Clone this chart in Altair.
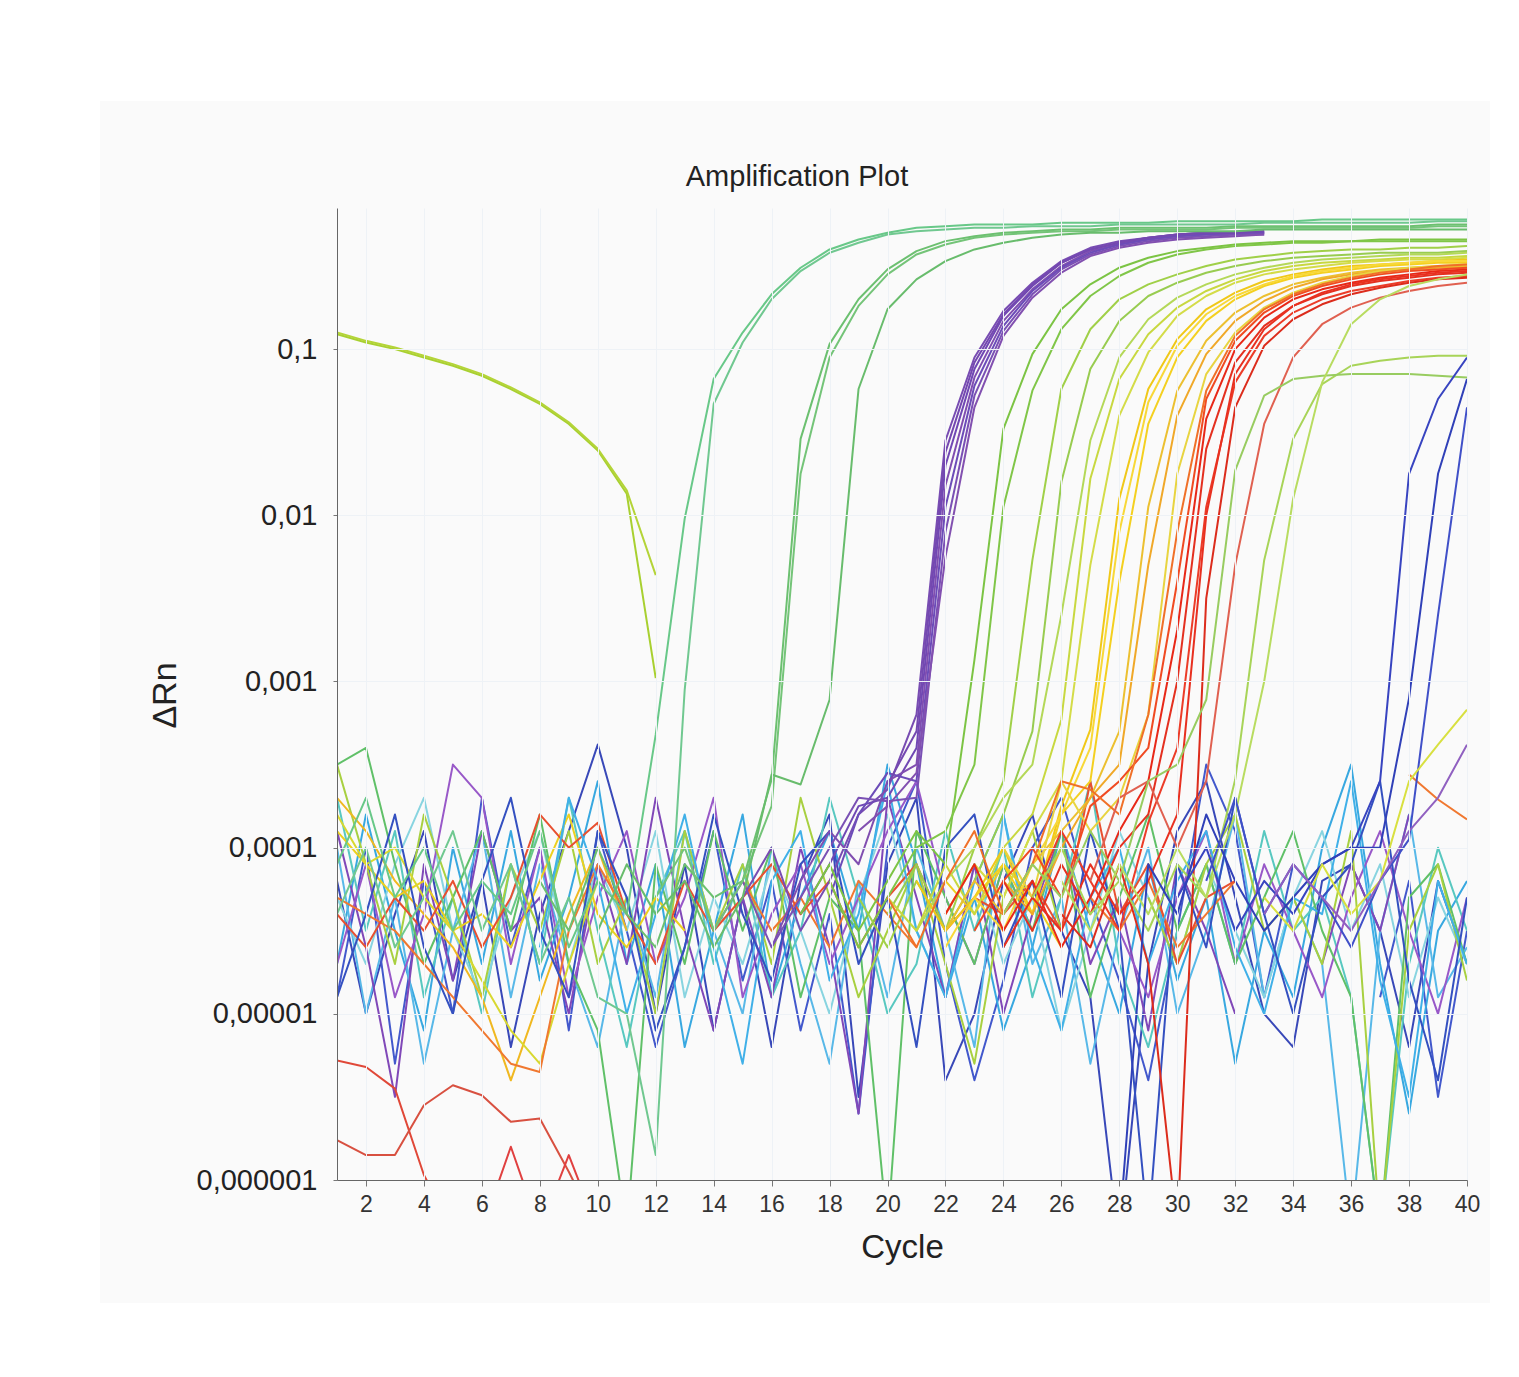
import altair as alt
import pandas as pd

N = None
# each series: (start cycle, log10(ΔRn) values)
# --- baseline noise wells ---
nb1 = (1, [-4.2,-5.0,-4.4,-3.9,-4.8,-4.2,-5.2,-4.4,-3.9,-3.38,-4.0,-5.0,-4.1,-5.1,-4.3,-5.2,-4.2,-3.8,-5.5,-4.1,-3.7,-5.4,-5.0,-4.2,-3.8,-4.5,-4.9,-6.4,-4.7,-3.9,-3.6,-4.3,-5.0,-5.2,-4.2,-4.1,-4.5,-5.2,-4.2,-4.7])
nb2 = (1, [-4.9,-4.0,-5.3,-4.2,-5.0,-3.7,-4.6,-4.0,-5.1,-3.9,-4.5,-5.2,-4.6,-3.9,-4.8,-4.2,-5.1,-4.4,-5.6,-4.0,-3.6,-4.7,-5.4,-4.8,-4.0,-3.7,-4.3,-4.8,-5.4,-4.5,-3.5,-3.9,-4.9,-4.1,N,N,-4.9,-4.2,-5.5,-4.5])
nb3 = (1, [-4.7,-3.8,-4.5,-5.1,-4.0,-4.7,-3.9,-4.8,-4.3,-3.6,-4.7,-4.1,-5.2,-4.5,-3.8,-4.9,-4.3,-3.9,-4.5,-3.5,-4.1,-4.9,-4.3,-5.1,-4.6,-3.9,-4.5,-5.0,-4.1,-4.8,-4.3,-5.3,-4.5,-4.9,-4.0,-3.5,-4.7,-5.6,-4.5,-4.2])
nb4 = (1, [-4.0,-5.0,-4.3,-5.3,-4.5,-3.9,-4.9,-4.1,-4.7,-5.2,-4.3,-4.9,-3.9,-4.5,-5.0,-4.0,-4.7,-5.3,-4.2,-4.9,-4.0,-4.5,-5.2,-3.8,-4.7,-4.3,-5.3,-4.5,-4.0,-5.0,-4.5,-3.8,-4.9,-4.3,-4.7,-6.3,-4.5,-3.8,-4.9,-4.6])
nb5 = (1, [-3.7,-4.5,-3.9,-4.9,-4.3,-5.0,-4.1,-4.7,-3.7,-4.5,-5.2,-4.3,-3.9,-4.7,-4.1,-4.9,-4.5,-3.7,-4.3,-5.0,-4.7,-3.9,-4.5,-4.0,-4.9,-4.3,-3.6,-4.7,-5.2,-4.5,-4.1,-4.7,-3.9,-4.5,-4.3,-4.9,-6.3,-4.7,-4.0,-4.5])
nb6 = (1, [-4.3,-4.7,-4.1,-3.7,-4.5,-4.9,-4.3,-3.9,-4.7,-4.1,-4.5,-3.9,-4.9,-4.3,-4.7,-4.1,-4.5,-5.0,-4.3,-3.8,-4.5,-4.9,-4.1,-4.7,-4.3,-5.1,-4.5,-3.9,-4.3,-4.7,-4.1,-4.5,-4.9,-4.3,-3.9,-4.5,-4.1,-4.9,-4.3,-4.7])
nb7 = (1, [-3.9,-4.6,-5.5,-4.1,-4.8,-3.9,-4.5,-4.3,-5.0,-4.1,-4.7,-3.7,-4.5,-5.1,-4.3,-4.9,-4.0,-4.6,-5.6,-3.7,-4.3,-4.9,-4.1,-5.0,-4.4,-3.9,-4.7,-4.3,-5.1,-4.1,-4.5,-5.0,N,N,-4.7,-4.1,-4.5,-3.8])
nb8 = (1, [-4.7,-4.1,-4.9,-4.4,-3.5,-3.7,-4.7,-4.0,-4.9,-4.3,-3.9,-4.7,-4.3,-3.7,-4.9,-4.4,-4.1,-4.7,-4.3,-3.9,-3.6,-4.3,-4.7,-4.1,-4.5,N,N,-4.5,-4.9,-4.3,-3.9,-4.7,-4.1,-4.5,-4.9,-4.3,-3.9,-4.5,-5.0,-4.3])
nb9 = (1, [-3.5,-3.4,-4.1,-4.7,-4.3,-3.9,-4.5,-3.8,-4.7,-5.1,-6.3,-4.1,-4.7,-3.9,-4.5,-4.0,-4.9,-4.3,-4.5,-6.3,-3.9,-4.3,-4.7,-4.1,-4.5,-3.9,-4.9,-4.3,-3.8,-4.5,-4.1,-4.7,-4.3,-3.9,-4.5,-4.9,-6.3,-4.3,-4.1,-4.7])
nb10 = (1, [-3.5,-4.1,-4.7,-3.8,-4.3,-4.9,-4.1,-4.5,-3.9,-4.7,-4.3,-5.0,-3.9,-4.5,-4.1,-4.7,-3.7,-4.3,-4.9,-4.5,-4.1,-4.7,-5.3,-4.3,-3.9,-4.5,N,N,-4.3,-4.7,-4.1,-3.8,-4.5,-4.3,-4.7,-3.9,-6.3,-4.5,-4.1,-4.8])
nb11 = (1, [-3.9,-4.1,-4.3,-4.2,-4.5,-4.4,-4.6,-4.2,-3.8,-4.4,-4.6,-4.3,-4.5])
nb11b = (21, [-4.5,-4.2,-4.4,-4.1,-4.3,-4.6])
nb12 = (1, [-3.7,-3.9,-4.2,-4.4,-4.6,-4.9,-5.4,-4.9,-4.4,-4.0,-4.5])
nb12b = (1, [-3.8,-4.1,-4.0,-4.3,-4.5,-4.8,-5.1,-5.3,-4.7,-4.2])
nb13 = (1, [-4.3,-4.4,-4.5,-4.7,-4.9,-5.1,-5.3,-5.35,-4.5,-4.1,-4.4])
nb13b = (15, [-4.2,-4.5,-4.3,-4.6,-4.2,-4.4,-4.6])
nb13c = (27, [-4.3,-4.5,-4.2,-4.6,-4.4,-4.2])
nb13d = (38, [-3.56,-3.71,-3.83])
nb14 = (1, [-5.28,-5.32,-5.45,-5.97,-6.3])
nb15 = (1, [-5.76,-5.85,-5.85,-5.55,-5.43,-5.49,-5.65,-5.63,-5.95,-6.3])
nb16 = (1, [-4.4,-4.6,-4.3,-4.5,-4.2,-4.6,-4.3,-3.8,-4.0,-3.85,-4.4,-4.7,-4.2,-4.5,-4.3,-4.1,-4.4,-4.2,-4.6,-4.3,-4.1,-4.5,-4.3,-4.4,-4.2,-4.5,-3.6,-4.4,-4.1,-4.7,-4.3,-4.2])
nb17 = (6, [-6.3,-5.8,-6.3,-5.85,-6.3])
nb18 = (8, [-4.6,-3.7,-4.2,-5.0,-4.4,-3.8,-4.6,-5.3,-4.2,-3.9,-4.8,-4.4,-3.6,-4.5,-4.9,-4.2,-3.8,-4.6,-5.1,-4.3,-4.0,-4.7,-4.2,-3.9,-4.6,-5.0,-4.3,-4.4,-3.6,-4.8,-5.5,-4.2,-4.7])
nb19 = (1, [-4.9,-4.4,-3.8,-4.6,-5.0,-4.2,-3.7,-4.5,-4.9,-3.9,-4.3,-5.1,-4.6,-3.8,-4.4,-4.8,-4.1,-3.9,-4.7,-4.3,-5.2,-4.0,-3.8,-4.6,-4.2,-4.9,-3.9,-4.5,-6.3,-4.1,-4.6,-3.7,-4.4,-5.0,-4.3,-4.1,-3.6,-4.8,-5.4,-4.3])

# --- amplification curves ---
k1 = (1, [-0.91,-0.96,-1.00,-1.05,-1.10,-1.16,-1.24,-1.33,-1.45,-1.61,-1.87,-2.98])
k2 = (1, [-0.90,-0.95,-0.99,-1.04,-1.09,-1.15,-1.23,-1.32,-1.44,-1.60,-1.85,-2.36])
a1 = (1, [-4.1,-3.7,-4.3,-4.0,-4.5,-4.2,-4.4,-3.9,-4.6,-4.2,-4.4,-3.32,-2.02,-1.18,-0.90,-0.67,-0.51,-0.40,-0.34,-0.30,-0.27,-0.26,-0.25,-0.25,-0.25,-0.24,-0.24,-0.24,-0.24,-0.23,-0.23,-0.23,-0.23,-0.23,-0.22,-0.22,-0.22,-0.22,-0.22,-0.22])
a2 = (1, [-4.4,-4.0,-4.6,-4.3,-3.9,-4.5,-4.1,-4.7,-4.3,-4.9,-5.0,-5.85,-3.05,-1.33,-0.96,-0.70,-0.53,-0.42,-0.36,-0.31,-0.29,-0.28,-0.27,-0.27,-0.26,-0.26,-0.26,-0.25,-0.25,-0.25,-0.25,-0.25,-0.24,-0.24,-0.24,-0.24,-0.24,-0.24,-0.23,-0.23])
b1 = (8, [-4.2,-4.5,-4.0,-4.4,-4.6,-4.1,-4.3,-4.2,-3.59,-1.54,-0.97,-0.70,-0.52,-0.41,-0.35,-0.32,-0.30,-0.29,-0.28,-0.28,-0.27,-0.27,-0.27,-0.27,-0.26,-0.26,-0.26,-0.26,-0.26,-0.26,-0.26,-0.25,-0.25])
b1b = (12, [-4.3,-4.0,-4.5,-4.2,-3.75,-1.75,-1.05,-0.74,-0.55,-0.43,-0.37,-0.33,-0.31,-0.30,-0.29,-0.29,-0.28,-0.28,-0.28,-0.28,-0.27,-0.27,-0.27,-0.27,-0.27,-0.27,-0.27,-0.26,-0.26])
b2 = (10, [-4.5,-4.1,-4.4,-4.2,-4.6,-4.3,-3.56,-3.62,-3.11,-1.24,-0.76,-0.58,-0.47,-0.40,-0.36,-0.33,-0.31,-0.30,-0.30,-0.29,-0.29,-0.29,-0.29,-0.28,-0.28,-0.28,-0.28,-0.28,-0.28,-0.28,-0.28])
p1 = (15, [-4.3,-4.0,-4.5,-4.2,-3.8,-3.65,-3.2,-1.55,-1.05,-0.77,-0.60,-0.47,-0.39,-0.35,-0.33,-0.31,-0.30,-0.30,-0.29])
p2 = (17, [-4.4,-4.1,-3.75,-3.7,-3.4,-1.70,-1.12,-0.80,-0.62,-0.48,-0.40,-0.36,-0.33,-0.31,-0.30,-0.30,-0.30])
p3 = (16, [-4.6,-4.2,-3.9,-4.1,-3.6,-3.5,-1.82,-1.17,-0.83,-0.64,-0.50,-0.41,-0.37,-0.34,-0.32,-0.31,-0.30,-0.30])
p4 = (18, [-4.3,-3.8,-3.55,-3.6,-1.95,-1.22,-0.86,-0.65,-0.51,-0.42,-0.37,-0.34,-0.32,-0.31,-0.31,-0.30])
p5 = (14, [-4.5,-4.2,-4.6,-4.3,-4.0,-3.7,-3.72,-3.7,-2.10,-1.28,-0.89,-0.67,-0.52,-0.43,-0.38,-0.35,-0.33,-0.32,-0.31,-0.31])
p6 = (19, [-3.9,-3.75,-3.55,-2.25,-1.35,-0.92,-0.69,-0.54,-0.44,-0.39,-0.36,-0.34,-0.33,-0.32,-0.31])
p7 = (20, [-3.62,-3.3,-1.62,-1.08,-0.79,-0.61,-0.48,-0.40,-0.36,-0.33,-0.31,-0.30,-0.30,-0.29])
d1 = (17, [-4.4,-4.1,-4.5,-4.2,-3.9,-4.1,-2.87,-1.48,-1.03,-0.76,-0.61,-0.51,-0.45,-0.41,-0.39,-0.37,-0.36,-0.35,-0.35,-0.35,-0.34,-0.34,-0.34,-0.34])
d2 = (18, [-4.2,-4.6,-4.3,-4.0,-3.9,-3.5,-1.95,-1.25,-0.88,-0.68,-0.56,-0.48,-0.43,-0.40,-0.38,-0.37,-0.36,-0.36,-0.35,-0.35,-0.35,-0.35,-0.35])
e1 = (19, [-4.3,-4.6,-4.2,-4.5,-4.0,-3.6,-2.27,-1.24,-0.88,-0.70,-0.61,-0.55,-0.50,-0.46,-0.44,-0.42,-0.41,-0.40,-0.40,-0.39,-0.39,-0.38])
e2 = (20, [-4.4,-4.1,-4.5,-4.2,-3.8,-3.3,-1.80,-1.12,-0.83,-0.68,-0.60,-0.54,-0.50,-0.47,-0.45,-0.44,-0.43,-0.42,-0.42,-0.42,-0.41])
e3 = (21, [-4.5,-4.2,-4.0,-3.7,-3.5,-2.6,-1.55,-1.05,-0.82,-0.69,-0.61,-0.55,-0.51,-0.48,-0.46,-0.45,-0.44,-0.43,-0.43,-0.42])
f1 = (20, [-4.3,-4.5,-4.1,-4.4,-4.0,-3.8,-3.23,-1.78,-1.18,-0.91,-0.75,-0.65,-0.58,-0.53,-0.50,-0.48,-0.47,-0.46,-0.45,-0.45,-0.44])
f2 = (22, [-4.4,-4.1,-4.3,-3.9,-3.6,-2.3,-1.40,-1.02,-0.80,-0.68,-0.60,-0.55,-0.52,-0.50,-0.48,-0.47,-0.46,-0.46,-0.45])
g1 = (21, [-4.2,-4.5,-4.3,-4.0,-4.4,-3.75,-3.29,-1.90,-1.24,-0.94,-0.76,-0.66,-0.59,-0.55,-0.52,-0.50,-0.49,-0.48,-0.47,-0.46])
g2 = (23, [-4.3,-4.1,-4.4,-3.8,-3.6,-2.4,-1.45,-1.05,-0.83,-0.70,-0.62,-0.57,-0.54,-0.52,-0.50,-0.49,-0.48,-0.48])
g3 = (22, [-4.5,-4.2,-4.4,-4.1,-3.9,-3.7,-3.3,-1.95,-1.25,-0.95,-0.78,-0.68,-0.61,-0.57,-0.54,-0.52,-0.51,-0.50,-0.50])
g4 = (24, [-4.2,-4.4,-4.0,-3.7,-3.5,-2.3,-1.40,-1.03,-0.83,-0.71,-0.63,-0.58,-0.55,-0.53,-0.52,-0.51,-0.51])
g5 = (22, [-4.6,-4.3,-4.5,-4.1,-3.8,-3.4,-2.1,-1.32,-0.98,-0.79,-0.68,-0.61,-0.56,-0.53,-0.51,-0.49,-0.48,-0.47,-0.47])
g6 = (24, [-4.0,-4.3,-3.6,-3.9,-3.7,-3.2,-1.75,-1.15,-0.90,-0.75,-0.66,-0.60,-0.56,-0.53,-0.51,-0.50,-0.49])
h1 = (22, [-4.4,-4.1,-4.5,-4.2,-4.6,-4.3,-3.9,-3.6,-2.69,-1.42,-1.00,-0.81,-0.70,-0.64,-0.60,-0.57,-0.55,-0.53,-0.52])
h2 = (24, [-4.2,-4.5,-4.1,-4.4,-4.0,-3.8,-3.0,-1.60,-1.08,-0.86,-0.74,-0.67,-0.62,-0.59,-0.57,-0.55,-0.54])
h3 = (25, [-4.3,-3.9,-4.2,-4.5,-3.85,-3.4,-1.95,-1.20,-0.92,-0.78,-0.70,-0.65,-0.62,-0.59,-0.57,-0.56])
h4 = (23, [-4.5,-4.2,-4.0,-4.3,-3.75,-3.6,-3.4,-2.4,-1.30,-0.95,-0.78,-0.68,-0.62,-0.58,-0.55,-0.53,-0.52,-0.51])
h5 = (26, [-4.4,-4.6,-4.1,-4.7,-6.3,-2.5,-1.35,-0.98,-0.82,-0.73,-0.67,-0.63,-0.60,-0.58,-0.57])
h6 = (20, [-4.3,-4.6,-4.2,-3.9,-4.4,-4.1,-3.6,-3.65,-3.8,-3.2,-2.1,-1.25,-0.92,-0.76,-0.67,-0.61,-0.57,-0.54,-0.52,-0.50,-0.49])
h7 = (27, [-4.2,-3.7,-3.6,-4.0,-3.6,-2.3,-1.45,-1.05,-0.85,-0.75,-0.69,-0.65,-0.62,-0.60])
h8 = (24, [-4.6,-4.3,-4.5,-4.1,-4.4,-4.2,-3.8,-2.0,-1.15,-0.88,-0.74,-0.66,-0.61,-0.58,-0.56,-0.54,-0.53])
i1 = (25, [-4.3,-4.0,-4.4,-4.2,-4.5,-4.1,-4.3,-3.59,-2.27,-1.54,-1.21,-1.10,-1.07,-1.05,-1.04,-1.04])
i2 = (24, [-4.4,-4.1,-4.3,-3.9,-4.2,-3.6,-3.5,-3.11,-1.73,-1.28,-1.18,-1.16,-1.15,-1.15,-1.15,-1.16,-1.17])
i3 = (26, [-4.2,-4.5,-4.1,-4.4,-4.0,-4.3,-3.8,-3.0,-1.90,-1.20,-0.85,-0.70,-0.62,-0.58,-0.55])
j1 = (30, [-4.3,-4.0,-4.5,-4.2,-4.4,-4.1,-4.0,-3.6,-1.75,-1.30,-1.05])
j2 = (28, [-6.3,-4.1,-4.4,-3.8,-4.2,-4.5,-4.3,-4.1,-4.0,-4.0,-3.1,-1.75,-1.18])
j3 = (31, [-4.2,-3.7,-4.4,-4.1,-4.3,-4.6,-4.2,-3.95,-2.6,-1.35])
ye = (33, [-4.3,-4.5,-4.1,-4.4,-4.2,-3.6,-3.38,-3.17])
pe = (33, [-4.4,-4.1,-4.3,-4.5,-4.2,-3.9,-3.7,-3.38])

# drawing order and colours
series = [
    ("#3848b8", nb1), ("#4258cc", nb2), ("#38a8e0", nb3), ("#58b8e8", nb4),
    ("#58c8c0", nb5), ("#88d4e0", nb6), ("#8048b8", nb7), ("#9858c8", nb8),
    ("#60c068", nb9), ("#a8d040", nb10), ("#ecd020", nb11), ("#ecd020", nb11b),
    ("#f0b820", nb12), ("#d8d830", nb12b), ("#f07830", nb13), ("#f07830", nb13b),
    ("#f07830", nb13c), ("#f07830", nb13d), ("#e04838", nb14), ("#d85040", nb15),
    ("#e85030", nb16), ("#e04040", nb17), ("#40b0e8", nb18), ("#3450c0", nb19),
    ("#a8d030", k1), ("#b4d438", k2),
    ("#784cb2", p1), ("#7048b4", p2), ("#804eb0", p3), ("#6c4cb8", p4),
    ("#7a50b4", p5), ("#8250b0", p6), ("#7448b0", p7),
    ("#68c888", a1), ("#70c890", a2),
    ("#6cc070", b1), ("#74c478", b1b), ("#68bc6c", b2),
    ("#7cc444", d1), ("#80c648", d2),
    ("#a0d048", e1), ("#98cc50", e2), ("#b4d858", e3),
    ("#c8d840", f1), ("#d4dc48", f2),
    ("#f0c818", g1), ("#f4d020", g2), ("#ecc030", g3), ("#f0a828", g4),
    ("#f8d838", g5), ("#e8d440", g6),
    ("#e82818", h1), ("#e43020", h2), ("#ec3c28", h3), ("#f04a22", h4),
    ("#dc2c1c", h5), ("#f07028", h6), ("#e06050", h7), ("#e83020", h8),
    ("#a8d458", i1), ("#98cc60", i2), ("#b8dc60", i3),
    ("#3844c0", j1), ("#3040b8", j2), ("#4050c8", j3),
    ("#d8e040", ye), ("#9060c0", pe),
]

rows = []
for idx, (color, (start, vals)) in enumerate(series):
    seg = 0
    for i, v in enumerate(vals):
        if v is None:
            seg += 1
            continue
        rows.append({"key": f"{idx:03d}_{seg:02d}", "cycle": start + i,
                     "drn": 10 ** v, "color": color})
df = pd.DataFrame(rows)

x_ticks = list(range(2, 41, 2))
y_ticks = [1e-6, 1e-5, 1e-4, 1e-3, 1e-2, 1e-1]

one = alt.Data(values=[{}])
panel = alt.Chart(one).mark_rect(color="#fafafa", clip=False).encode(
    x=alt.value(-237), x2=alt.value(1153), y=alt.value(-107), y2=alt.value(1095)
)
title = alt.Chart(one).mark_text(
    text="Amplification Plot", font="Liberation Sans", fontSize=29,
    color="#222", align="center", baseline="middle"
).encode(x=alt.value(460), y=alt.value(-31))

lines = alt.Chart(df).mark_line(strokeWidth=2, clip=True, strokeJoin="round").encode(
    x=alt.X("cycle:Q", scale=alt.Scale(domain=[1, 40], nice=False, zero=False),
            axis=alt.Axis(values=x_ticks, title="Cycle", tickSize=6, labelPadding=7,
                          labelFont="Liberation Sans", labelFontSize=23,
                          labelColor="#333", labelFlush=False, labelOverlap=False,
                          titleFont="Liberation Sans", titleFontSize=33,
                          titleFontWeight="normal", titleColor="#222", titleBaseline="middle",
                          titleY=67, domainColor="#666", tickColor="#777",
                          gridColor="#eef2f6", zindex=1)),
    y=alt.Y("drn:Q", scale=alt.Scale(type="log", domain=[1e-6, 0.707], nice=False),
            axis=alt.Axis(values=y_ticks, title="ΔRn", tickSize=4, labelPadding=16,
                          labelExpr="replace(format(datum.value, '~f'), '.', ',')",
                          labelFont="Liberation Sans", labelFontSize=29, labelColor="#222",
                          titleFont="Liberation Sans", titleFontSize=34, titleFontWeight="normal",
                          titleColor="#222", titleAngle=270, titleX=-172, titleY=487,
                          titleBaseline="middle", titleAlign="center",
                          domainColor="#666", tickColor="#777", gridColor="#eef2f6", zindex=1)),
    color=alt.Color("color:N", scale=None),
    detail="key:N",
    order="cycle:Q",
)

chart = alt.layer(panel, lines, title).properties(
    width=1130, height=972,
    autosize="none",
    padding={"left": 329, "top": 200, "right": 40, "bottom": 170},
).configure_view(stroke="#c8c8c8").configure(background="white")

chart.save("out.html", embed_options={"renderer": "svg", "actions": False})
